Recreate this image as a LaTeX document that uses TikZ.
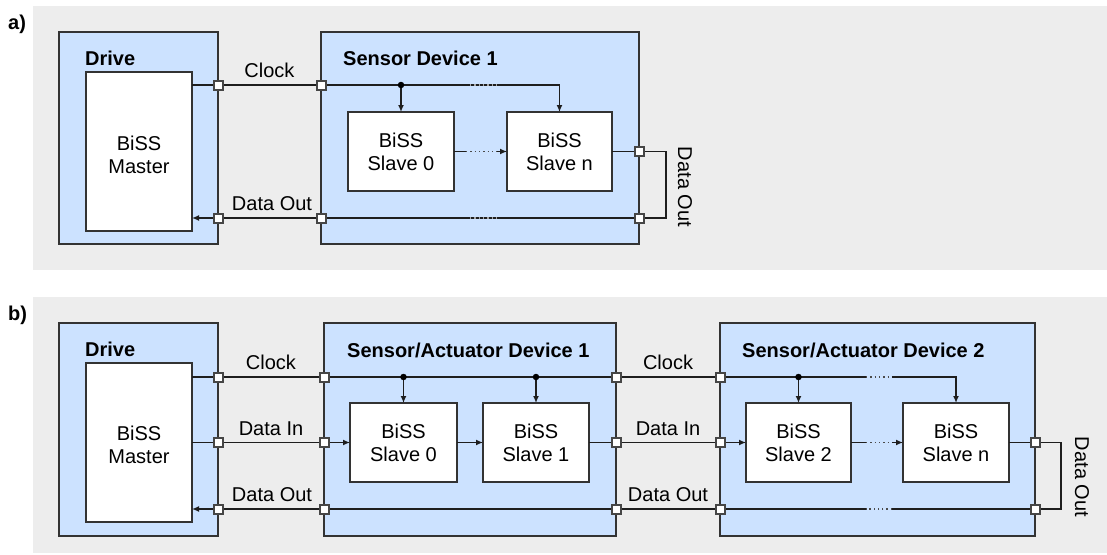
\documentclass[tikz,border=0pt]{standalone}
\usepackage{fontspec}
\setmainfont{Liberation Sans}
\usetikzlibrary{arrows.meta}
\definecolor{bgc}{RGB}{237,237,237}
\definecolor{devc}{RGB}{204,226,255}
\definecolor{edgec}{RGB}{51,51,51}
\definecolor{wirec}{RGB}{30,30,30}
\definecolor{portc}{RGB}{70,70,70}
\tikzset{
  panel/.style={fill=bgc, draw=none},
  devbox/.style={draw=edgec, fill=devc, line width=1.4pt, inner sep=0, outer sep=0},
  blk/.style={draw=edgec, fill=white, line width=1.4pt, font=\fontsize{20}{23}\selectfont, align=center, inner sep=0, outer sep=0},
  wire/.style={draw=wirec, line width=1.5pt},
  arr/.style={wire, -{Latex[length=7pt,width=6pt]}},
  dotsline/.style={draw=wirec!80, line width=1.5pt, dash pattern=on 1.3pt off 3pt},
  faintdots/.style={draw=gray!70, line width=1.2pt, dash pattern=on 1.3pt off 3pt},
  port/.style={draw=portc, fill=white, line width=2pt, minimum size=9pt, inner sep=0, outer sep=0},
  jdot/.style={circle, fill=black, inner sep=0, minimum size=6.5pt},
  title/.style={font=\bfseries\fontsize{20}{23}\selectfont, anchor=base west, inner sep=0},
  lbl/.style={font=\fontsize{20}{23}\selectfont, anchor=base, inner sep=0},
  rlbl/.style={font=\fontsize{20}{23}\selectfont, rotate=-90, inner sep=0},
}
\begin{document}
\begin{tikzpicture}[x=1pt,y=-1pt]
\useasboundingbox (0,0) rectangle (1107,554);
% panels
\fill[panel] (33,6) rectangle (1107,270);
\fill[panel] (33,297) rectangle (1107,553);
\node[title] (la) at (8,29) {a)};
\node[title] (lb) at (8,320) {b)};

% ================= panel a =================
\node[devbox, minimum width=159pt, minimum height=212pt] (drvA) at (138.5,138) {};
\node[blk, minimum width=106pt, minimum height=159pt] (mA) at (139,151.5) {};
\node[blk, draw=none, fill=none] (mAt) at (139,154.5) {BiSS\\Master};
\node[title] (tdrvA) at (85,65) {Drive};
\node[devbox, minimum width=318pt, minimum height=212pt] (devA) at (480,138) {};
\node[title] (tdevA) at (343,65) {Sensor Device 1};
\node[blk, minimum width=106pt, minimum height=79pt] (s0A) at (401,151.5) {BiSS\\Slave 0};
\node[blk, minimum width=105pt, minimum height=79pt] (snA) at (559.5,151.5) {BiSS\\Slave n};

\coordinate (pA1) at (218,85);
\coordinate (pA2) at (321,85);
\coordinate (pA3) at (218,218);
\coordinate (pA4) at (321,218);
\coordinate (pA5) at (639,151.5);
\coordinate (pA6) at (639,218);
\coordinate (jA) at (401,85);
\coordinate (lpA1) at (666,151.5);
\coordinate (lpA2) at (666,218);
\coordinate (gA1) at (466,151.5);
\coordinate (gA2) at (497,151.5);
\coordinate (fA1) at (470,85);
\coordinate (fA2) at (497,85);
\coordinate (fA3) at (470,218);
\coordinate (fA4) at (497,218);

\draw[arr] (mA.east |- pA1) -- (pA1) -- (pA2) -| (snA.north);
\draw[faintdots] (fA1) -- (fA2);
\draw[arr] (jA) -- (s0A.north);
\node[jdot] (jdA) at (jA) {};
\draw[wire] (s0A.east) -- (gA1);
\draw[dotsline] (gA1) -- (gA2);
\draw[arr] (gA2) -- (snA.west);
\draw[arr] (snA.east) -- (pA5) -- (lpA1) -- (lpA2) -- (pA6) -- (pA4) -- (pA3) -- (mA.east |- pA3);
\draw[faintdots] (fA3) -- (fA4);

\foreach \p in {pA1,pA2,pA3,pA4,pA5,pA6} \node[port] (q\p) at (\p) {};

\node[lbl] (cA) at (269.5,77) {Clock};
\node[lbl] (doA) at (272,210) {Data Out};
\node[rlbl] (rdA) at (685,187) {Data Out};

% ================= panel b =================
\node[devbox, minimum width=159pt, minimum height=213pt] (drvB) at (138.5,429.5) {};
\node[blk, minimum width=106pt, minimum height=159pt] (mB) at (139,442.5) {};
\node[blk, draw=none, fill=none] (mBt) at (139,445) {BiSS\\Master};
\node[title] (tdrvB) at (85,356) {Drive};
\node[devbox, minimum width=292pt, minimum height=213pt] (dev1) at (470,429.5) {};
\node[title] (tdev1) at (347,357) {Sensor/Actuator Device 1};
\node[devbox, minimum width=315pt, minimum height=213pt] (dev2) at (877.5,429.5) {};
\node[title] (tdev2) at (742,357) {Sensor/Actuator Device 2};
\node[blk, minimum width=107pt, minimum height=79pt] (s0) at (403.5,442.5) {BiSS\\Slave 0};
\node[blk, minimum width=106pt, minimum height=79pt] (s1) at (536,442.5) {BiSS\\Slave 1};
\node[blk, minimum width=105pt, minimum height=79pt] (s2) at (798.5,442.5) {BiSS\\Slave 2};
\node[blk, minimum width=106pt, minimum height=79pt] (sn) at (956,442.5) {BiSS\\Slave n};

% clock row
\coordinate (pB1) at (218,377);
\coordinate (pB2) at (324,377);
\coordinate (pB3) at (616,377);
\coordinate (pB4) at (720,377);
% data in row
\coordinate (pB5) at (218,442.5);
\coordinate (pB6) at (324,442.5);
\coordinate (pB7) at (616,442.5);
\coordinate (pB8) at (720,442.5);
\coordinate (pB9) at (1035,442.5);
% data out row
\coordinate (pB10) at (218,509);
\coordinate (pB11) at (324,509);
\coordinate (pB12) at (616,509);
\coordinate (pB13) at (720,509);
\coordinate (pB14) at (1035,509);
\coordinate (jB1) at (403.5,377);
\coordinate (jB2) at (536,377);
\coordinate (jB3) at (798.5,377);
\coordinate (gC1) at (866,377);
\coordinate (gC2) at (892,377);
\coordinate (gI1) at (866,442.5);
\coordinate (gI2) at (892,442.5);
\coordinate (gO1) at (866,509);
\coordinate (gO2) at (892,509);
\coordinate (lpB1) at (1061,442.5);
\coordinate (lpB2) at (1061,509);

\draw[wire] (mB.east |- pB1) -- (pB1) -- (pB2) -- (pB3) -- (pB4) -- (gC1);
\draw[dotsline] (gC1) -- (gC2);
\draw[arr] (gC2) -| (sn.north);
\draw[arr] (jB1) -- (s0.north);
\draw[arr] (jB2) -- (s1.north);
\draw[arr] (jB3) -- (s2.north);
\node[jdot] (jd1) at (jB1) {};
\node[jdot] (jd2) at (jB2) {};
\node[jdot] (jd3) at (jB3) {};

\draw[arr] (mB.east |- pB5) -- (pB5) -- (pB6) -- (s0.west);
\draw[arr] (s0.east) -- (s1.west);
\draw[arr] (s1.east) -- (pB7) -- (pB8) -- (s2.west);
\draw[wire] (s2.east) -- (gI1);
\draw[dotsline] (gI1) -- (gI2);
\draw[arr] (gI2) -- (sn.west);

\draw[wire] (sn.east) -- (pB9) -- (lpB1) -- (lpB2) -- (pB14) -- (gO2);
\draw[dotsline] (gO2) -- (gO1);
\draw[arr] (gO1) -- (pB13) -- (pB12) -- (pB11) -- (pB10) -- (mB.east |- pB10);

\foreach \p in {pB1,pB2,pB3,pB4,pB5,pB6,pB7,pB8,pB9,pB10,pB11,pB12,pB13,pB14} \node[port] (q\p) at (\p) {};

\node[lbl] (cB1) at (271,369) {Clock};
\node[lbl] (diB1) at (271,435) {Data In};
\node[lbl] (doB1) at (272,501) {Data Out};
\node[lbl] (cB2) at (668,369) {Clock};
\node[lbl] (diB2) at (668,435) {Data In};
\node[lbl] (doB2) at (668,501) {Data Out};
\node[rlbl] (rdB) at (1082,477) {Data Out};
\end{tikzpicture}
\end{document}
